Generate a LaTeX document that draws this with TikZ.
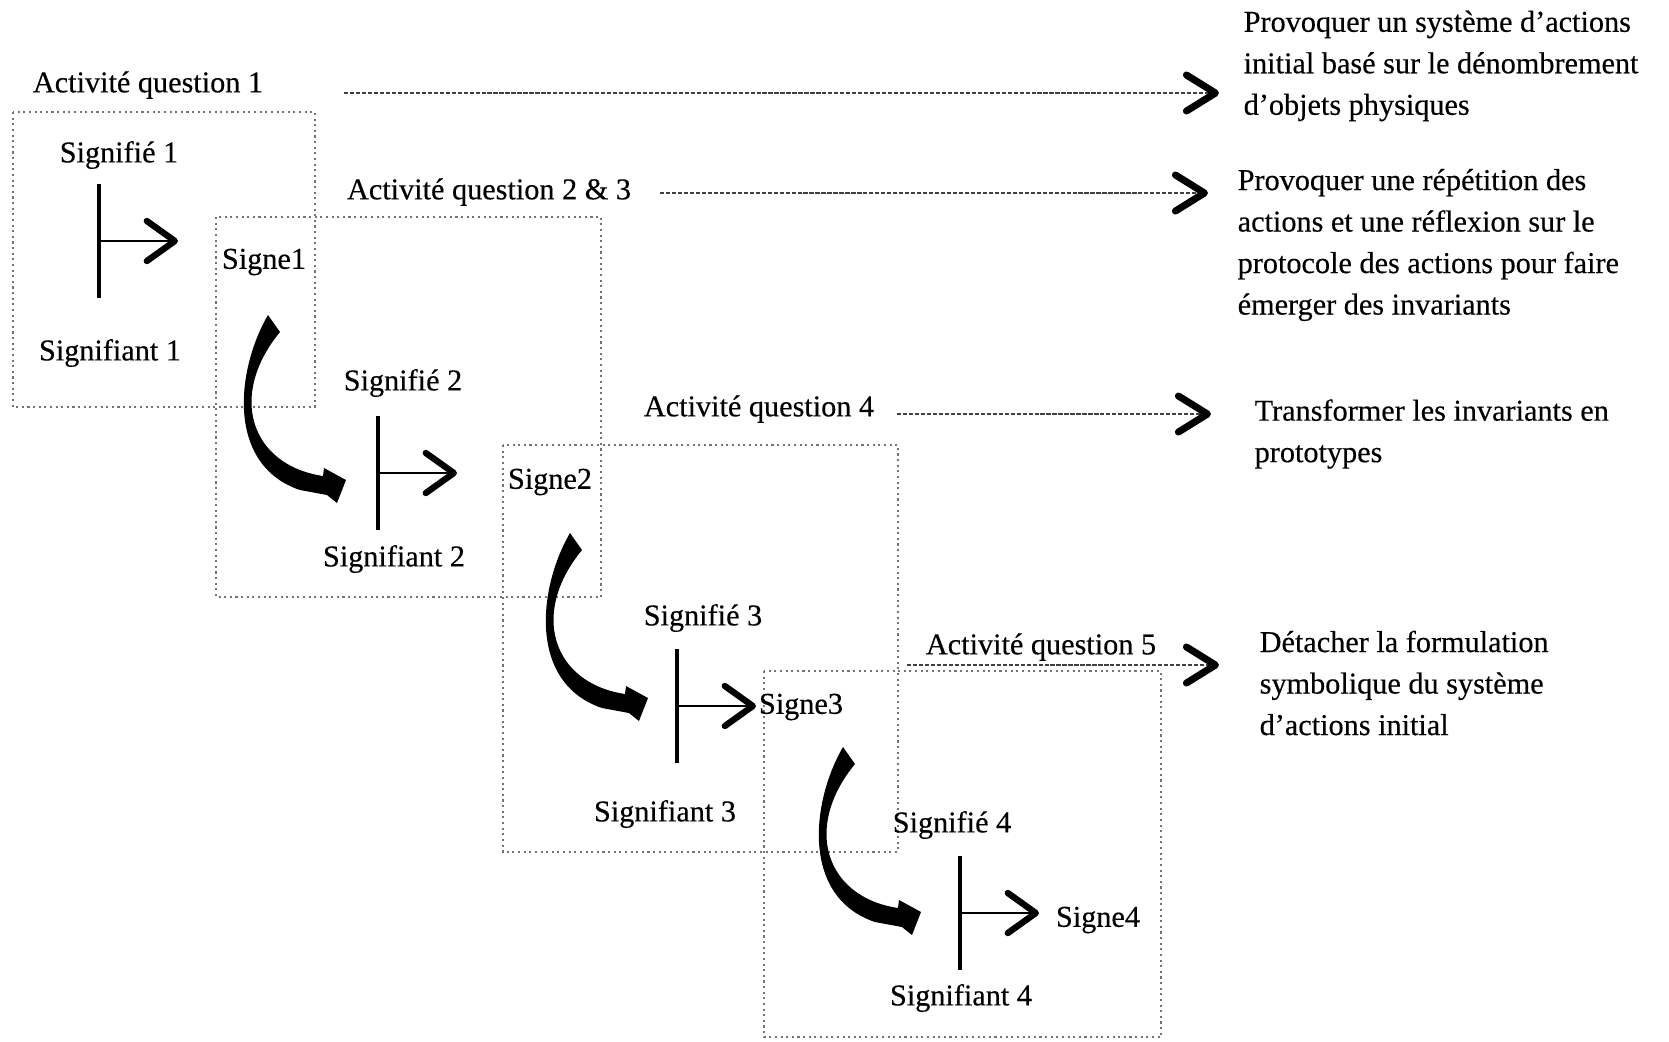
\documentclass[tikz,border=0pt]{standalone}
\usepackage{fontspec}
\setmainfont{Liberation Serif}[FakeBold=0.35]
\usetikzlibrary{arrows.meta}

\tikzset{
  frame/.style={densely dotted, black!55, line width=0.6pt},
  guide/.style={dash pattern=on 1.2pt off 0.5pt, black!75, line width=0.6pt,
    -{Straight Barb[length=2.9mm, width=3.6mm, line width=2pt, round, color=black]}},
  bar/.style={line width=0.9pt},
  hook/.style={line width=0.8pt,
    -{Straight Barb[length=2.8mm, width=4mm, line width=1.8pt, round]}},
  target/.style={anchor=west, align=left, inner sep=0pt},
}

\begin{document}
\begin{tikzpicture}[x=0.01cm, y=-0.01cm, font=\fontsize{8.6pt}{11.8pt}\selectfont]
\useasboundingbox (0,0) rectangle (1669,1041);

% Dotted frames, one per stage
\foreach \xa/\ya/\xb/\yb in {13/112/315/407, 216/217/601/597, 503/445/898/852, 764/671/1161/1037}
{
    \draw[frame] (\xa,\ya) rectangle (\xb,\yb);
}

% Activity labels
\node (q1) at (148,85) {Activité question 1};
\node (q23) at (489,192) {Activité question 2 \& 3};
\node (q4) at (759,409) {Activité question 4};
\node (q5) at (1041,647) {Activité question 5};

% Goals on the right
\node[target] (t1) at (1243,66) {Provoquer un système d’actions\\initial basé sur le dénombrement\\d’objets physiques};
\node[target] (t2) at (1237,245) {Provoquer une répétition des\\actions et une réflexion sur le\\protocole des actions pour faire\\émerger des invariants};
\node[target] (t3) at (1254,434) {Transformer les invariants en\\prototypes};
\node[target] (t4) at (1259,683) {Détacher la formulation\\symbolique du système\\d’actions initial};

% Guide arrows
\coordinate (s1) at (344,93);
\coordinate (s2) at (660,193);
\coordinate (s3) at (897,414);
\coordinate (s4) at (907,665);
\foreach \s/\t/\d in {s1/t1/2.4mm, s2/t2/2.9mm, s3/t3/4.3mm, s4/t4/4mm}
{
    \draw[guide, shorten >=\d] (\s) -- (\s -| \t.west);
}

% Signifie / Signifiant / Signe
\node (sd1) at (119,155) {Signifié 1};
\node (st1) at (110,353) {Signifiant 1};
\node (sg1) at (264,262) {Signe1};
\node (sd2) at (403,383) {Signifié 2};
\node (st2) at (394,559) {Signifiant 2};
\node (sg2) at (550,482) {Signe2};
\node (sd3) at (703,618) {Signifié 3};
\node (st3) at (665,814) {Signifiant 3};
\node (sg3) at (801,707) {Signe3};
\node (sd4) at (952,825) {Signifié 4};
\node (st4) at (961,998) {Signifiant 4};
\node (sg4) at (1098,920) {Signe4};

% Bars with their arrows
\foreach \bx/\by in {99/241, 378/473, 677/706, 960/913}
{
    \draw[bar] (\bx,\by-57) -- (\bx,\by+57);
    \draw[hook] (\bx,\by) -- ++(79,0);
}

% Curved arrows from one sign to the next stage
\foreach \sx/\sy in {268/315, 570/533, 843/747}
{
    \fill[shift={(\sx,\sy)}] (0,0) .. controls (-32,55) and (-42,150) .. (32,175)
        -- (59,180) -- (69,188) -- (78,165) -- (56,153) -- (55,161)
        .. controls (-18,150) and (-40,80) .. (12,17) -- cycle;
}

\end{tikzpicture}
\end{document}
